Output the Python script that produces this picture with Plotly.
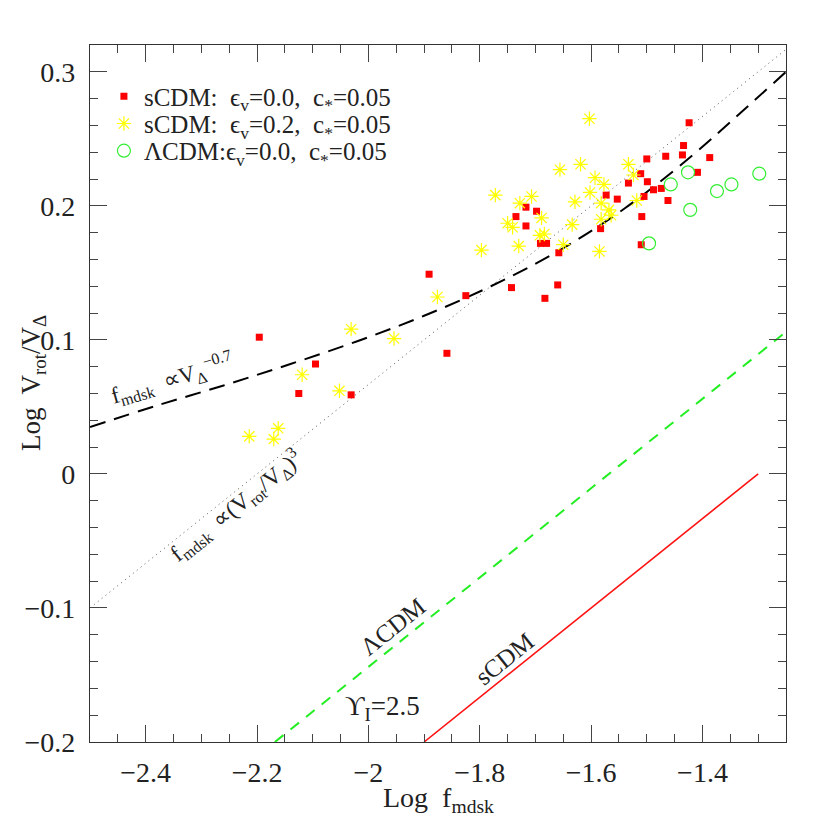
import plotly.graph_objects as go

# ---------------- data ----------------
red_x = [-1.424, -1.434, -1.436, -1.466, -1.500, -1.387, -1.409, -1.511, -1.499, -1.533,
         -1.474, -1.488, -1.573, -1.553, -1.505, -1.462, -1.717, -1.698, -1.735, -1.509,
         -1.717, -1.583, -1.691, -1.680, -1.510, -1.658, -1.891, -1.660, -1.743, -1.825,
         -1.683, -2.196, -2.095, -2.125, -2.031, -1.859]
red_y = [0.262, 0.245, 0.238, 0.237, 0.235, 0.236, 0.225, 0.224, 0.218, 0.217,
         0.213, 0.212, 0.208, 0.205, 0.207, 0.204, 0.199, 0.196, 0.192, 0.192,
         0.185, 0.183, 0.172, 0.172, 0.171, 0.165, 0.149, 0.141, 0.139, 0.133,
         0.131, 0.102, 0.082, 0.060, 0.059, 0.090]

yel_x = [-1.603, -1.619, -1.656, -1.533, -1.524, -1.593, -1.577, -1.602, -1.772, -1.707,
         -1.728, -1.629, -1.582, -1.518, -1.568, -1.564, -1.689, -1.750, -1.741, -1.582,
         -1.634, -1.692, -1.684, -1.730, -1.797, -1.650, -1.585, -1.876, -2.031, -1.954,
         -2.119, -2.052, -2.162, -2.214, -2.170]
yel_y = [0.265, 0.231, 0.227, 0.231, 0.223, 0.221, 0.216, 0.210, 0.208, 0.207,
         0.202, 0.203, 0.202, 0.204, 0.197, 0.193, 0.191, 0.187, 0.184, 0.190,
         0.186, 0.178, 0.179, 0.170, 0.167, 0.171, 0.166, 0.132, 0.108, 0.101,
         0.074, 0.062, 0.034, 0.028, 0.026]

grn_x = [-1.496, -1.457, -1.426, -1.422, -1.374, -1.348, -1.298]
grn_y = [0.172, 0.216, 0.225, 0.197, 0.211, 0.216, 0.224]

# f_mdsk ~ V_Delta^-0.7 curve
curve_x = [-2.5, -2.38, -2.26, -2.14, -2.02, -1.90, -1.78, -1.66, -1.54, -1.42, -1.33, -1.25]
curve_y = [0.035, 0.051, 0.066, 0.082, 0.099, 0.118, 0.140, 0.166, 0.198, 0.237, 0.270, 0.300]

# f_mdsk ~ (Vrot/VDelta)^3 dotted line
dot_x = [-2.5, -1.25]
dot_y = [-0.1, 0.3167]

# Upsilon_I = 2.5 lines
lcdm_x = [-2.168, -1.25]
lcdm_y = [-0.2, 0.106]
scdm_x = [-1.9, -1.3]
scdm_y = [-0.2, 0.0]

legend_names = ["sCDM:  ϵ<sub>v</sub>=0.0,  c<sub>*</sub>=0.05",
                "sCDM:  ϵ<sub>v</sub>=0.2,  c<sub>*</sub>=0.05",
                "ΛCDM:ϵ<sub>v</sub>=0.0,  c<sub>*</sub>=0.05"]

FONT = "Liberation Serif"
TXT = "#222222"

fig = go.Figure()

fig.add_trace(go.Scatter(x=dot_x, y=dot_y, mode="lines", showlegend=False,
                         line=dict(color="#555555", width=1, dash="1px,4px")))
fig.add_trace(go.Scatter(x=curve_x, y=curve_y, mode="lines", showlegend=False,
                         line=dict(color="black", width=2, dash="16px,9px", shape="spline")))
fig.add_trace(go.Scatter(x=lcdm_x, y=lcdm_y, mode="lines", showlegend=False,
                         line=dict(color="#22ee22", width=2, dash="11px,9px")))
fig.add_trace(go.Scatter(x=scdm_x, y=scdm_y, mode="lines", showlegend=False,
                         line=dict(color="#ff1111", width=1.6)))

fig.add_trace(go.Scatter(x=red_x, y=red_y, mode="markers", name=legend_names[0],
                         legend="legend",
                         marker=dict(symbol="square", size=7, color="#ff0000",
                                     line=dict(width=0))))
fig.add_trace(go.Scatter(x=yel_x, y=yel_y, mode="markers", name=legend_names[1],
                         legend="legend2",
                         marker=dict(symbol="asterisk-open", size=12, color="#ffff00",
                                     line=dict(width=1.2, color="#ffff00"))))
fig.add_trace(go.Scatter(x=grn_x, y=grn_y, mode="markers", name=legend_names[2],
                         legend="legend3",
                         marker=dict(symbol="circle-open", size=13, color="#33ee33",
                                     line=dict(width=1.2, color="#33ee33"))))

def ann(size):
    return dict(font=dict(family=FONT, size=size, color=TXT), showarrow=False,
                xref="x", yref="y", xanchor="center", yanchor="middle")

fig.add_annotation(x=-2.353, y=0.0714, text="f<sub>mdsk</sub>  ∝V<sub>Δ</sub><sup>−0.7</sup>",
                   textangle=-16, **ann(23))
fig.add_annotation(x=-2.238, y=-0.0234,
                   text="f<sub>mdsk</sub>  ∝(V<sub>rot</sub>/V<sub>Δ</sub>)<sup>3</sup>",
                   textangle=-38.7, **ann(23))
fig.add_annotation(x=-1.956, y=-0.1137, text="ΛCDM", textangle=-38.7, **ann(25))
fig.add_annotation(x=-1.755, y=-0.1375, text="sCDM", textangle=-38.7, **ann(25))
fig.add_annotation(x=-1.974, y=-0.1748, text="ϒ<sub>I</sub>=2.5", textangle=0, **ann(27))

# axis titles as annotations
fig.add_annotation(x=-0.082, y=0.515, xref="paper", yref="paper", showarrow=False,
                   xanchor="center", yanchor="middle",
                   text="Log  V<sub>rot</sub>/V<sub>Δ</sub>", textangle=-90,
                   font=dict(family=FONT, size=27, color=TXT))
fig.add_annotation(x=0.5, y=-0.083, xref="paper", yref="paper", showarrow=False,
                   xanchor="center", yanchor="middle",
                   text="Log  f<sub>mdsk</sub>",
                   font=dict(family=FONT, size=28, color=TXT))

axis_common = dict(showgrid=False, zeroline=False, showline=True, linecolor="#333333",
                   linewidth=1.2, mirror="ticks", ticks="inside", ticklen=17,
                   tickcolor="#444444", tickwidth=1,
                   tickfont=dict(family=FONT, size=28, color=TXT))

fig.update_xaxes(range=[-2.5, -1.25], tick0=0, dtick=0.2, ticklabelstandoff=5,
                 minor=dict(dtick=0.05, ticklen=8, ticks="inside", tickcolor="#444444"),
                 **axis_common)
fig.update_yaxes(range=[-0.2, 0.32], tick0=0, dtick=0.1, ticklabelstandoff=8,
                 minor=dict(dtick=0.02, ticklen=8, ticks="inside", tickcolor="#444444"),
                 **axis_common)

leg_common = dict(x=0.02, xanchor="left", yanchor="middle",
                  bgcolor="rgba(0,0,0,0)", borderwidth=0,
                  font=dict(family=FONT, size=25, color=TXT), itemwidth=30)

fig.update_layout(
    width=830, height=830,
    margin=dict(l=82, r=52, t=37, b=96),
    paper_bgcolor="white", plot_bgcolor="white",
    showlegend=True,
    legend=dict(y=0.926, **leg_common),
    legend2=dict(y=0.887, **leg_common),
    legend3=dict(y=0.848, **leg_common),
)

fig.write_html("out.html")
